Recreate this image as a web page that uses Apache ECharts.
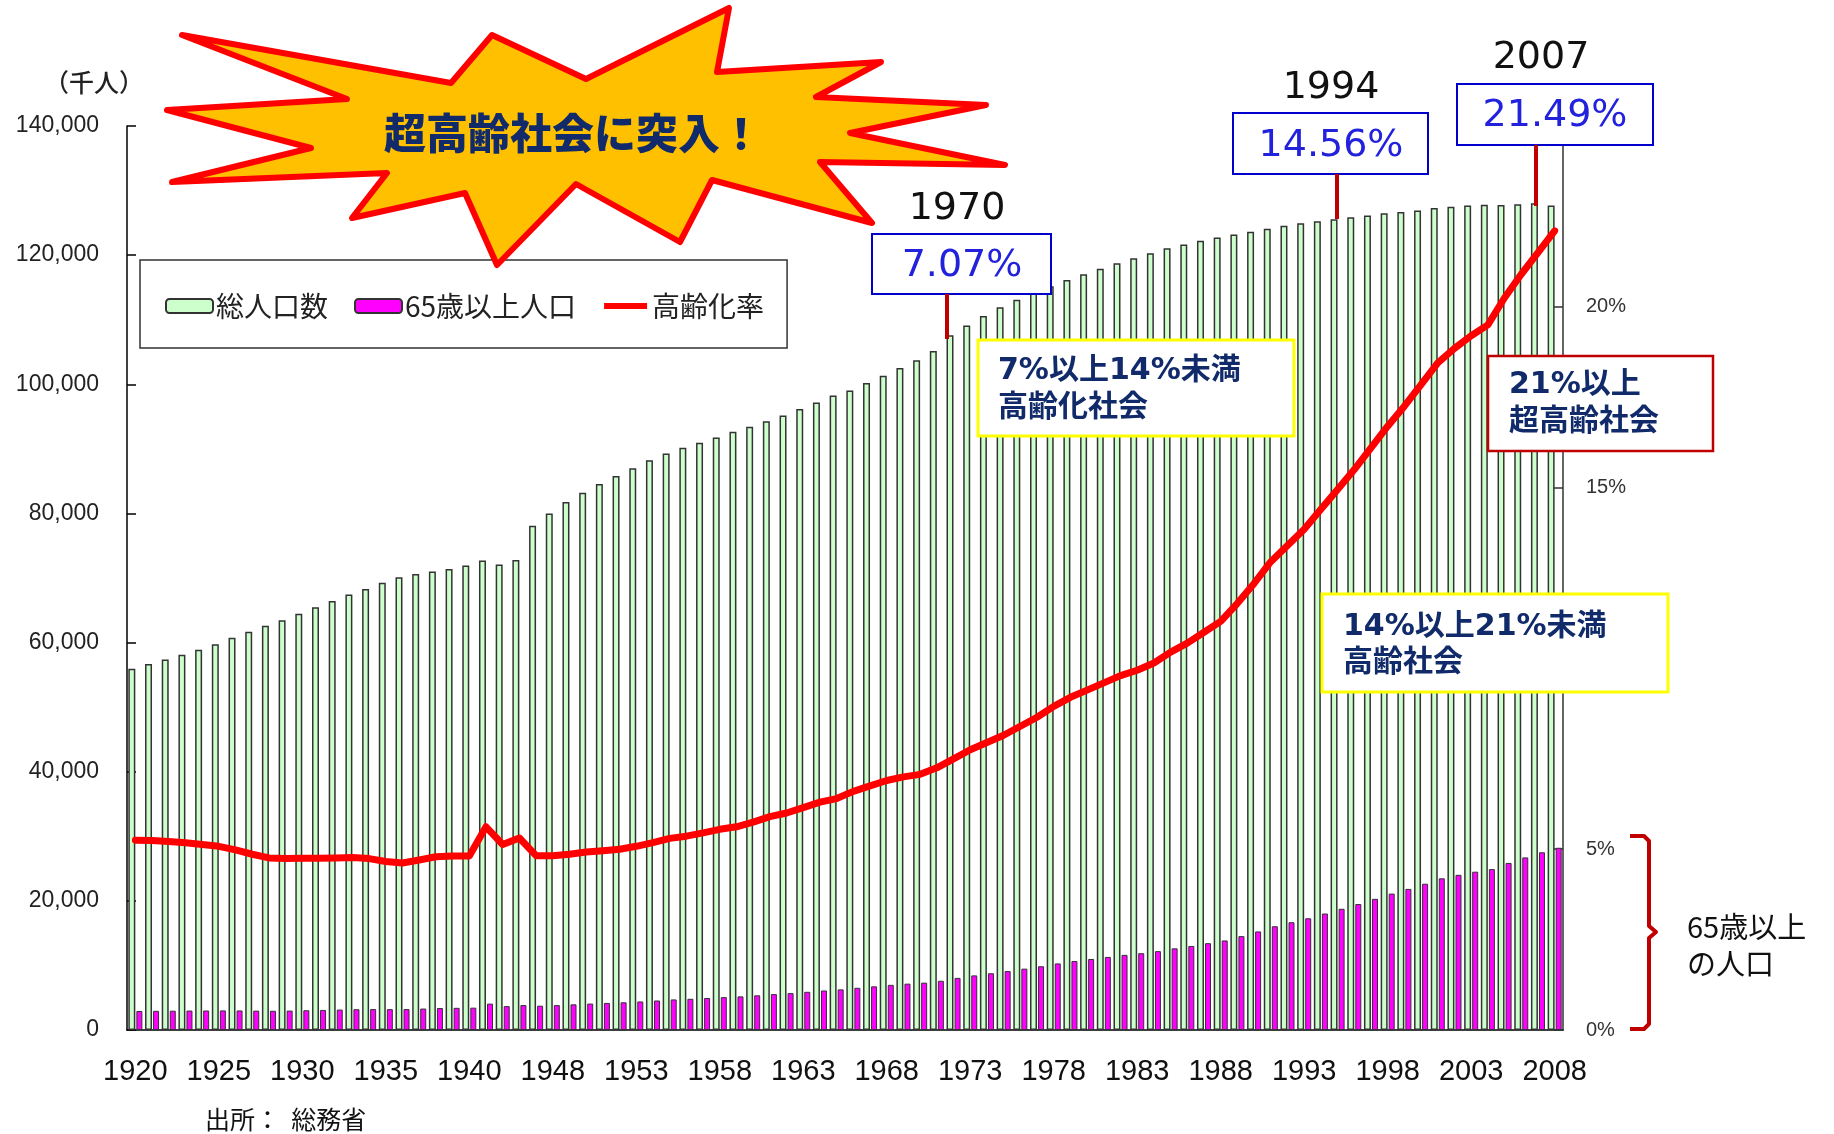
<!DOCTYPE html>
<html><head><meta charset="utf-8">
<script src="https://cdn.jsdelivr.net/npm/echarts@6/dist/echarts.min.js"></script>
<style>html,body{margin:0;padding:0;background:#fff}#c{width:1834px;height:1134px}</style>
</head><body><div id="c"></div>
<script>
// ---- data ----
const years = ['1920','1921','1922','1923','1924','1925','1926','1927','1928','1929','1930','1931','1932','1933','1934','1935','1936','1937','1938','1939','1940','1941','1942','1943','1947','1948','1949','1950','1951','1952','1953','1954','1955','1956','1957','1958','1959','1960','1961','1962','1963','1964','1965','1966','1967','1968','1969','1970','1971','1972','1973','1974','1975','1976','1977','1978','1979','1980','1981','1982','1983','1984','1985','1986','1987','1988','1989','1990','1991','1992','1993','1994','1995','1996','1997','1998','1999','2000','2001','2002','2003','2004','2005','2006','2007','2008'];
const totalPop = [55963,56666,57390,58119,58876,59737,60741,61659,62595,63461,64450,65457,66434,67432,68309,69254,70114,70630,71013,71380,71933,72700,72100,72800,78101,80002,81773,83200,84541,85808,86981,88239,89276,90172,90928,91767,92641,93419,94287,95181,96156,97182,98275,99036,100196,101331,102536,103720,105145,107595,109104,110573,111940,113094,114165,115190,116155,117060,117902,118728,119536,120305,121049,121660,122239,122745,123205,123611,124101,124567,124938,125265,125570,125859,126157,126472,126667,126926,127316,127486,127694,127787,127768,127901,128033,127692];
const elderlyPop = [2941,2969,2990,3011,3020,3035,3025,2997,2980,3008,3061,3109,3162,3217,3238,3227,3239,3320,3402,3433,3460,4086,3699,3866,3764,3856,3974,4093,4193,4290,4419,4571,4732,4833,4956,5093,5206,5372,5563,5711,5914,6122,6290,6536,6763,6992,7178,7333,7623,8070,8456,8791,9123,9500,9875,10310,10686,11004,11319,11635,11894,12211,12650,13018,13446,13870,14538,15266,16071,16692,17304,18038,18773,19508,20311,21121,21850,22656,23490,24031,24517,24918,25873,26731,27527,28220];
const agingRate = [5.25,5.24,5.21,5.18,5.13,5.08,4.98,4.86,4.76,4.74,4.75,4.75,4.76,4.77,4.74,4.66,4.62,4.70,4.79,4.81,4.81,5.62,5.13,5.31,4.82,4.82,4.86,4.92,4.96,5.0,5.08,5.18,5.3,5.36,5.45,5.55,5.62,5.75,5.9,6.0,6.15,6.3,6.4,6.6,6.75,6.9,7.0,7.07,7.25,7.5,7.75,7.95,8.15,8.4,8.65,8.95,9.2,9.4,9.6,9.8,9.95,10.15,10.45,10.7,11.0,11.3,11.8,12.35,12.95,13.4,13.85,14.4,14.95,15.5,16.1,16.7,17.25,17.85,18.45,18.85,19.2,19.5,20.25,20.9,21.5,22.1];
const seriesNames = ['総人口数','65歳以上人口','高齢化率'];
const leftTicks = {min:0, max:140000, interval:20000};
const rightTicks = {min:0, max:25, interval:5};

const CJK = '"Noto Sans CJK JP", sans-serif';
const NAVY = '#102a6a';
const BLUE = '#2222dd';
const DRED = '#c00000';

function txt(x, y, text, font, fill, align) {
  return {type:'text', x:x, y:y, z:120, style:{text:text, font:font, fill:fill,
    textAlign:align||'center', textVerticalAlign:'middle', align:align||'center', verticalAlign:'middle'}};
}
function box(x, y, w, h, stroke, lw) {
  return {type:'rect', z:110, shape:{x:x, y:y, width:w, height:h}, style:{fill:'#fff', stroke:stroke, lineWidth:lw||2}};
}
function vline(x, y1, y2) {
  return {type:'line', z:110, shape:{x1:x, y1:y1, x2:x, y2:y2}, style:{stroke:DRED, lineWidth:4}};
}
const starPts = [[182,35],[451,83],[492,35],[586,79],[729,8],[717,72],[881,62],[816,97],[986,105],[850,133],[1005,165],[820,162],[872,223],[712,180],[680,242],[576,184],[497,265],[465,193],[352,218],[387,173],[172,182],[311,148],[167,110],[347,99]];

const boxFont = 'bold 30px "DejaVu Sans", "Noto Sans CJK JP", sans-serif';
const yearFont = '38px "DejaVu Sans", sans-serif';
const graphics = [
  {type:'polygon', z:130, shape:{points:starPts}, style:{fill:'#ffc000', stroke:'#ff0000', lineWidth:6, lineJoin:'round'}},
  {type:'text', x:573, y:133, z:131, style:{text:'超高齢社会に突入！', font:'900 42px "Noto Sans CJK JP", serif', fill:NAVY, textAlign:'center', textVerticalAlign:'middle', align:'center', verticalAlign:'middle'}},
  txt(94, 82, '（千人）', '500 25px ' + CJK, '#222'),
  txt(205, 1119, '出所：  総務省', '25px ' + CJK, '#111', 'left'),
  // 1970
  txt(957, 209, '1970', yearFont, '#111'),
  box(872, 234, 179, 60, '#0000cc', 2),
  txt(962, 266, '7.07%', yearFont, BLUE),
  vline(947, 294, 339),
  // 1994
  txt(1331, 88, '1994', yearFont, '#111'),
  box(1233, 113, 195, 61, '#0000cc', 2),
  txt(1331, 146, '14.56%', yearFont, BLUE),
  vline(1337, 174, 219),
  // 2007
  txt(1541, 58, '2007', yearFont, '#111'),
  box(1457, 84, 196, 61, '#0000cc', 2),
  txt(1555, 116, '21.49%', yearFont, BLUE),
  vline(1536, 145, 206),
  // category boxes
  box(978, 340, 316, 96, '#ffff00', 3),
  txt(998, 371, '7%以上14%未満', boxFont, NAVY, 'left'),
  txt(998, 408, '高齢化社会', boxFont, NAVY, 'left'),
  box(1488, 356, 225, 95, DRED, 2.5),
  txt(1509, 385, '21%以上', boxFont, NAVY, 'left'),
  txt(1509, 422, '超高齢社会', boxFont, NAVY, 'left'),
  box(1322, 594, 346, 98, '#ffff00', 3),
  txt(1343, 627, '14%以上21%未満', boxFont, NAVY, 'left'),
  txt(1343, 663, '高齢社会', boxFont, NAVY, 'left'),
  // brace
  {type:'polyline', z:110, shape:{points:[[1630,836],[1644,836],[1649,841],[1649,926],[1656,932],[1649,938],[1649,1024],[1644,1029],[1630,1029]]}, style:{stroke:DRED, lineWidth:4, fill:null, lineJoin:'round'}},
  txt(1687, 927, '65歳以上', '29px ' + CJK, '#111', 'left'),
  txt(1687, 964, 'の人口', '29px ' + CJK, '#111', 'left')
];

const chart = echarts.init(document.getElementById('c'), null, {renderer:'canvas'});
chart.setOption({
  animation:false,
  backgroundColor:'#fff',
  grid:{left:127, right:271, top:126, bottom:104, containLabel:false},
  legend:{
    left:140, top:260, orient:'horizontal',
    padding:[32,23,28,25], borderColor:'#333', borderWidth:1.5, backgroundColor:'#fff',
    itemWidth:47, itemHeight:14, itemGap:26,
    textStyle:{fontSize:28, fontFamily:'"Noto Sans CJK JP", sans-serif', color:'#222', padding:[0,0,0,-2]},
    data:[
      {name:seriesNames[0]},
      {name:seriesNames[1]},
      {name:seriesNames[2], icon:'path://M2,4 L45,4 L45,10 L2,10 Z M0,0 L0,0 M47,14 L47,14', itemStyle:{color:'#ff0000', borderWidth:0}}
    ]
  },
  xAxis:{
    type:'category', data:years, boundaryGap:true,
    axisLine:{lineStyle:{color:'#000', width:1.5}},
    axisTick:{inside:true, length:6, interval:0, lineStyle:{color:'#222', width:1.5}},
    axisLabel:{interval:4, margin:27, fontSize:29, fontFamily:'"Liberation Sans", sans-serif', color:'#111'}
  },
  yAxis:[
    {type:'value', min:leftTicks.min, max:leftTicks.max, interval:leftTicks.interval,
     axisLine:{show:true, lineStyle:{color:'#000', width:1.5}},
     axisTick:{show:true, inside:true, length:9, lineStyle:{color:'#000', width:1.5}},
     splitLine:{show:false},
     axisLabel:{margin:28, fontSize:23, fontFamily:'"Liberation Sans", sans-serif', color:'#222',
       formatter:function(v){return v.toLocaleString('en-US');}}},
    {type:'value', min:rightTicks.min, max:rightTicks.max, interval:rightTicks.interval, position:'right',
     axisLine:{show:true, lineStyle:{color:'#333', width:1.5}},
     axisTick:{show:true, inside:true, length:9, lineStyle:{color:'#333', width:1.5}},
     splitLine:{show:false},
     axisLabel:{margin:23, fontSize:20, fontFamily:'"Liberation Sans", sans-serif', color:'#333', formatter:'{value}%'}}
  ],
  series:[
    {name:seriesNames[0], type:'bar', data:totalPop, barWidth:7, barGap:'15%', z:2,
     itemStyle:{color:'#ccffcc', borderColor:'#333', borderWidth:1.5}},
    {name:seriesNames[1], type:'bar', data:elderlyPop, barWidth:6, barGap:'15%', z:2,
     itemStyle:{color:'#ff00ff', borderColor:'#333', borderWidth:1}},
    {name:seriesNames[2], type:'line', yAxisIndex:1, data:agingRate, symbol:'none', z:5,
     itemStyle:{color:'#ff0000'}, lineStyle:{color:'#ff0000', width:7, cap:'round', join:'round'}}
  ],
  graphic:{elements:graphics}
});
</script></body></html>
